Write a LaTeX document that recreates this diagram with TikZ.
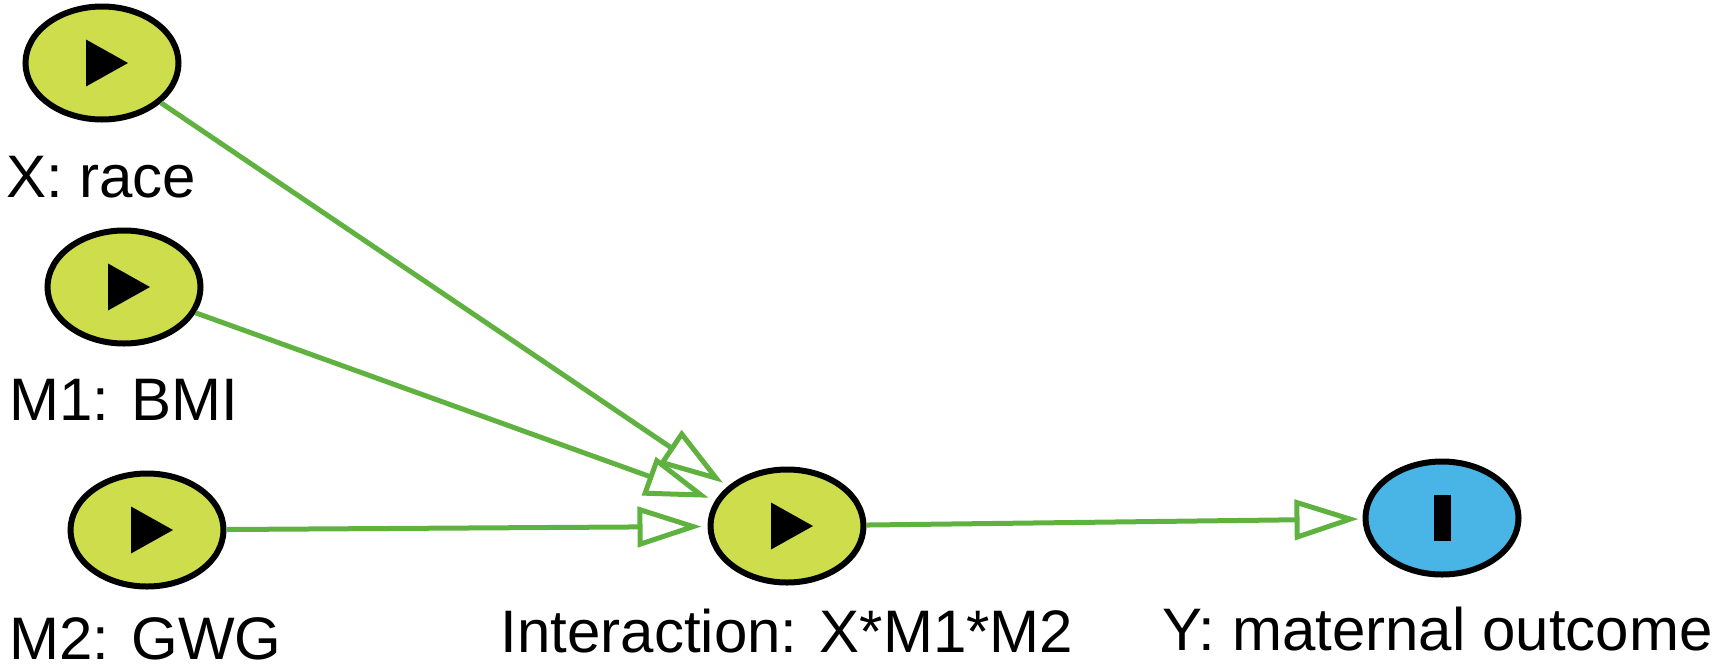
\documentclass[tikz,border=0pt]{standalone}
\usepackage{fontspec}
\setmainfont{Liberation Sans}
\usetikzlibrary{shapes.geometric,arrows.meta}
\definecolor{lime}{RGB}{205,221,75}
\definecolor{sky}{RGB}{72,181,230}
\definecolor{edgegreen}{RGB}{96,178,64}
\begin{document}
\begin{tikzpicture}[x=1pt,y=1pt,
  basevar/.style={ellipse, draw=black, line width=6pt, minimum width=153pt, minimum height=113pt, inner sep=0pt},
  var/.style={basevar, fill=lime,
    path picture={\fill[black] ([xshift=-16pt,yshift=23.5pt]path picture bounding box.center) -- ++(42pt,-23.5pt) -- ++(-42pt,-23.5pt) -- cycle;}},
  outc/.style={basevar, fill=sky,
    path picture={\fill[black] ([xshift=-8.5pt,yshift=-23pt]path picture bounding box.center) rectangle ++(17pt,46pt);}},
  lab/.style={font=\fontsize{60}{72}\selectfont, inner sep=0pt},
  arr/.style={draw=edgegreen, line width=5pt, -{Triangle[open,length=64pt,width=40pt]}, shorten >=6pt}
]
\useasboundingbox (0,0) rectangle (1723,-670);
\node[var] (X) at (102,-63) {};
\node[var] (M1) at (124,-287) {};
\node[var] (M2) at (147,-530) {};
\node[var] (I) at (787,-526) {};
\node[outc] (Y) at (1442,-518) {};
\node[lab, anchor=base west] (tX) at (6,-197) {X: race};
\node[lab, anchor=base west] (tM1) at (9,-420) {M1: BMI};
\node[lab, anchor=base west] (tM2) at (9,-659) {M2: GWG};
\node[lab, anchor=base] (tI) at (787,-652) {Interaction: X*M1*M2};
\node[lab, anchor=base west] (tY) at (1162,-650) {Y: maternal outcome};
\draw[arr] (X) -- (I);
\draw[arr, shorten >=7pt] (M1) -- (I);
\draw[arr] (M2) -- (I);
\draw[arr, shorten >=4pt] (I) -- (Y);
\end{tikzpicture}
\end{document}
